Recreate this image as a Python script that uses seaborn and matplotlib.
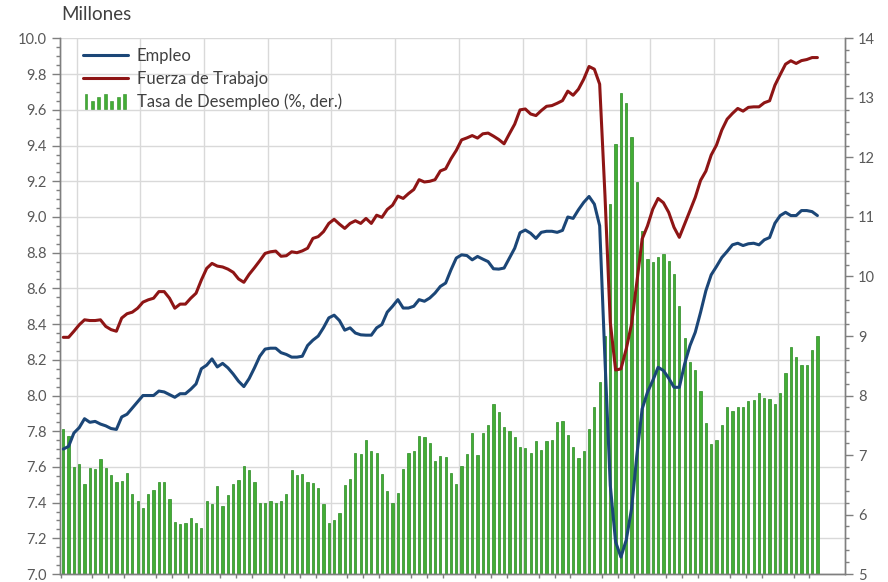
import numpy as np
import pandas as pd
import matplotlib
matplotlib.use('Agg')
import matplotlib.pyplot as plt
import seaborn as sns
from matplotlib.lines import Line2D
from matplotlib.patches import Rectangle
from matplotlib.legend_handler import HandlerBase
from matplotlib.ticker import MultipleLocator, FixedLocator, NullFormatter

# rolling quarters, one value per month (143 periods)
empleo = [
    7.70, 7.715, 7.79, 7.82, 7.87, 7.85, 7.855, 7.84, 7.83, 7.815, 7.81, 7.88,
    7.895, 7.93, 7.965, 8.0, 8.0, 8.0, 8.025, 8.02, 8.005, 7.99, 8.01, 8.01,
    8.035, 8.065, 8.15, 8.17, 8.205, 8.16, 8.18, 8.155, 8.12, 8.08, 8.05, 8.095,
    8.155, 8.22, 8.26, 8.265, 8.265, 8.24, 8.23, 8.215, 8.215, 8.22, 8.28, 8.31,
    8.333, 8.38, 8.435, 8.45, 8.42, 8.366, 8.379, 8.35, 8.34, 8.338, 8.338, 8.379,
    8.398, 8.467, 8.5, 8.537, 8.49, 8.49, 8.5, 8.537, 8.528, 8.546, 8.574, 8.611,
    8.63, 8.704, 8.77, 8.788, 8.784, 8.76, 8.779, 8.764, 8.75, 8.71, 8.708, 8.714,
    8.77, 8.825, 8.912, 8.927, 8.909, 8.88, 8.914, 8.92, 8.92, 8.914, 8.925, 9.0,
    8.992, 9.04, 9.082, 9.115, 9.072, 8.951,
    8.2, 7.496, 7.18, 7.095, 7.19, 7.365, 7.664, 7.925, 8.018, 8.084, 8.158, 8.14,
    8.097, 8.046, 8.046, 8.177, 8.279, 8.354, 8.466, 8.587,
    8.676, 8.723, 8.773, 8.807, 8.844, 8.853, 8.84, 8.85, 8.853, 8.844, 8.872, 8.885,
    8.965, 9.008, 9.026, 9.008, 9.008, 9.036, 9.036, 9.03, 9.008,
]

fuerza = [
    8.326, 8.326, 8.36, 8.396, 8.424, 8.42, 8.42, 8.424, 8.387, 8.369, 8.36, 8.434,
    8.458, 8.467, 8.489, 8.523, 8.536, 8.545, 8.582, 8.582, 8.545, 8.489, 8.512, 8.512,
    8.545, 8.573, 8.647, 8.712, 8.74, 8.725, 8.72, 8.708, 8.69, 8.653, 8.634, 8.679,
    8.716, 8.755, 8.796, 8.805, 8.809, 8.78, 8.783, 8.805, 8.80, 8.81, 8.825, 8.88,
    8.89, 8.918, 8.964, 8.987, 8.96, 8.936, 8.964, 8.979, 8.964, 8.992, 8.964, 9.01,
    8.998, 9.042, 9.066, 9.117, 9.104, 9.131, 9.154, 9.209, 9.196, 9.2, 9.209, 9.258,
    9.27, 9.326, 9.373, 9.432, 9.443, 9.456, 9.442, 9.466, 9.47, 9.453, 9.434, 9.41,
    9.466, 9.52, 9.6, 9.605, 9.577, 9.568, 9.596, 9.62, 9.624, 9.637, 9.652, 9.705,
    9.682, 9.716, 9.772, 9.843, 9.828, 9.744,
    9.12, 8.41, 8.143, 8.149, 8.26, 8.40, 8.634, 8.877, 8.95, 9.044, 9.104, 9.08,
    9.026, 8.942, 8.886, 8.96, 9.035, 9.11, 9.205, 9.257,
    9.347, 9.403, 9.487, 9.548, 9.58, 9.608, 9.593, 9.614, 9.617, 9.617, 9.64, 9.651,
    9.738, 9.798, 9.856, 9.875, 9.86, 9.876, 9.882, 9.893, 9.893,
]

desempleo = [
    7.43, 7.32, 6.80, 6.85, 6.52, 6.79, 6.76, 6.93, 6.78, 6.66, 6.54, 6.57,
    6.69, 6.35, 6.22, 6.11, 6.34, 6.41, 6.54, 6.54, 6.26, 5.88, 5.84, 5.85,
    5.94, 5.85, 5.78, 6.22, 6.18, 6.48, 6.14, 6.32, 6.51, 6.58, 6.82, 6.75,
    6.55, 6.20, 6.20, 6.22, 6.20, 6.22, 6.34, 6.74, 6.66, 6.68, 6.55, 6.53,
    6.44, 6.17, 5.86, 5.91, 6.03, 6.49, 6.60, 7.03, 7.01, 7.26, 7.06, 7.03,
    6.68, 6.39, 6.19, 6.36, 6.76, 7.03, 7.07, 7.32, 7.31, 7.21, 6.90, 6.99,
    6.97, 6.69, 6.51, 6.82, 7.01, 7.37, 7.00, 7.37, 7.50, 7.85, 7.72, 7.47,
    7.41, 7.31, 7.14, 7.12, 7.03, 7.24, 7.09, 7.24, 7.25, 7.55, 7.57, 7.33,
    7.14, 6.95, 7.06, 7.44, 7.80, 8.22, 9.0, 11.22, 12.22, 13.09, 12.92, 12.35,
    11.58, 10.77, 10.29, 10.24, 10.32, 10.37, 10.26, 10.05, 9.51, 8.96, 8.57, 8.43,
    8.07, 7.54, 7.18, 7.26, 7.50, 7.80, 7.74, 7.80, 7.80, 7.91, 7.92, 8.04,
    7.95, 7.94, 7.86, 8.04, 8.37, 8.82, 8.65, 8.52, 8.52, 8.76, 9.0,
]

BLUE = '#1B4677'
RED = '#8E1515'
GREEN = '#43AD35'
GREEN_EDGE = '#2A8A22'
GRID = '#D9D9D9'
AXC = '#7F7F7F'
TXT = '#595959'

periodo = np.arange(len(empleo))
df = pd.DataFrame({'periodo': periodo, 'Empleo': empleo,
                   'Fuerza de Trabajo': fuerza, 'Tasa': desempleo})

sns.set_style('white')
plt.rcParams['font.family'] = ['Lato', 'DejaVu Sans']


class BarsHandler(HandlerBase):
    # small bar cluster like Excel's column legend key
    def create_artists(self, legend, orig_handle, xdescent, ydescent,
                       width, height, fontsize, trans):
        hs = [1.0, 0.55, 0.8, 1.0, 0.55, 0.8, 1.0]
        step = width / len(hs)
        arts = []
        for k, h in enumerate(hs):
            r = Rectangle((-xdescent + k * step + step * 0.3, -ydescent - 1),
                          step * 0.45, (height + 2) * h,
                          facecolor=GREEN, edgecolor=GREEN_EDGE, lw=0.4,
                          transform=trans)
            arts.append(r)
        return arts


fig = plt.figure(figsize=(8.88, 5.82), dpi=100)
ax2 = fig.add_axes([0.0681, 0.0137, 0.8835, 0.9202])   # bars, right scale
ax = ax2.twinx()                                        # lines, left scale
ax.set_zorder(ax2.get_zorder() + 1)
ax.patch.set_visible(False)

# bars on the right axis
sns.barplot(data=df, x='periodo', y='Tasa', ax=ax2, color=GREEN,
            saturation=1, width=0.42, edgecolor=GREEN_EDGE, linewidth=0.5,
            zorder=2)
ax2.set_ylim(5, 14)

# horizontal grid follows the left scale (every 0.2 -> 0.6 on the right)
left_ticks = np.round(np.arange(7.0, 10.01, 0.2), 1)
for v in left_ticks:
    ax2.axhline(5 + (v - 7) * 3, color=GRID, lw=1, zorder=0)

sns.lineplot(data=df, x='periodo', y='Empleo', ax=ax, color=BLUE, lw=2.2)
sns.lineplot(data=df, x='periodo', y='Fuerza de Trabajo', ax=ax, color=RED, lw=2.2)
ax.set_ylim(7.0, 10.0)

# left axis (lines) drawn on the left side
ax.yaxis.tick_left()
ax.yaxis.set_label_position('left')
ax2.yaxis.tick_right()
ax.set_yticks(left_ticks)
ax.set_yticklabels([f'{v:.1f}' for v in left_ticks])
ax.yaxis.set_minor_locator(MultipleLocator(0.05))
ax2.set_yticks(np.arange(5, 15, 1))
ax2.set_yticklabels([str(v) for v in range(5, 15)])
ax2.yaxis.set_minor_locator(MultipleLocator(0.2))

# x axis: year boundaries as major ticks, quarters as minor
ax.set_xlim(-0.53, 147.2)
ax2.set_xlim(-0.53, 147.2)
ax2.xaxis.set_major_locator(FixedLocator(np.arange(2.5, 135, 12)))
ax2.xaxis.set_minor_locator(FixedLocator(np.arange(-0.5, 141, 3)))
ax2.xaxis.set_major_formatter(NullFormatter())
ax2.grid(axis='x', color=GRID, lw=1, zorder=0)
ax2.set_axisbelow(True)
ax.set_xlabel('')
ax.set_ylabel('')
ax2.set_xlabel('')
ax2.set_ylabel('')
ax.tick_params(axis='x', which='both', bottom=False, labelbottom=False)

for a in (ax, ax2):
    for s in ('top',):
        a.spines[s].set_visible(False)
    for s in ('left', 'right', 'bottom'):
        a.spines[s].set_color(AXC)
        a.spines[s].set_linewidth(1)
    a.tick_params(which='major', length=6, width=1, color=AXC,
                  labelsize=10.5, labelcolor=TXT)
    a.tick_params(which='minor', length=3, width=1, color=AXC)
ax2.tick_params(axis='x', which='major', length=6, direction='out')
ax2.tick_params(axis='x', which='minor', length=3, direction='out', bottom=True)
ax2.tick_params(axis='y', which='both', right=True, left=False)
ax.tick_params(axis='y', which='both', left=True, right=False, pad=4)

fig.text(0.069, 0.975, 'Millones', fontsize=13.5, color='#404040',
         ha='left', va='center')

handles = [Line2D([], [], color=BLUE, lw=2.2),
           Line2D([], [], color=RED, lw=2.2),
           Rectangle((0, 0), 1, 1)]
labels = ['Empleo', 'Fuerza de Trabajo', 'Tasa de Desempleo (%, der.)']
leg = ax.legend(handles, labels, loc='upper left',
                bbox_to_anchor=(0.093, 0.917), bbox_transform=fig.transFigure,
                frameon=False, fontsize=12, handlelength=2.7,
                handletextpad=0.55, labelspacing=0.4, borderpad=0,
                borderaxespad=0, handler_map={Rectangle: BarsHandler()})
for t in leg.get_texts():
    t.set_color('#404040')

fig.savefig('out.png', dpi=100)
